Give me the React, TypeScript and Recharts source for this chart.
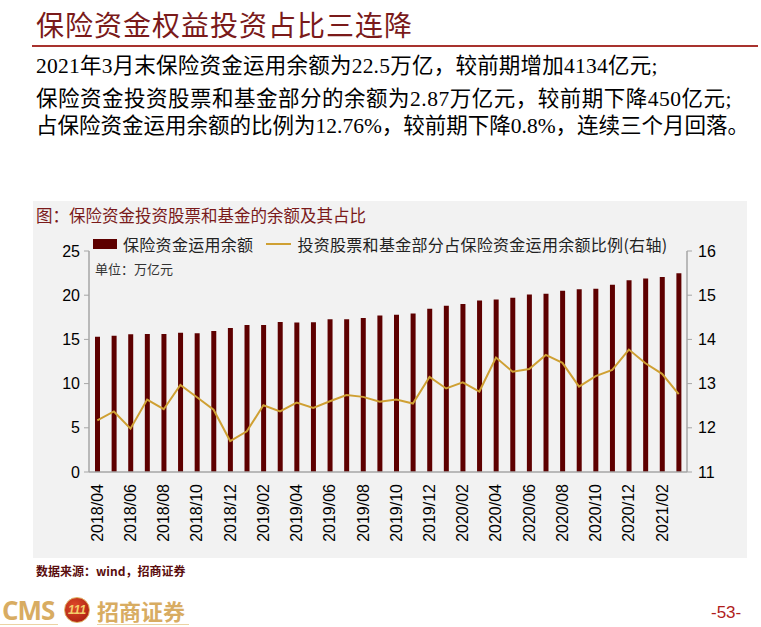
import React from "react";
import {
  ComposedChart,
  Bar,
  Line,
  XAxis,
  YAxis,
} from "recharts";

const MONTHS = [
  "2018/04", "2018/05", "2018/06", "2018/07", "2018/08", "2018/09",
  "2018/10", "2018/11", "2018/12", "2019/01", "2019/02", "2019/03",
  "2019/04", "2019/05", "2019/06", "2019/07", "2019/08", "2019/09",
  "2019/10", "2019/11", "2019/12", "2020/01", "2020/02", "2020/03",
  "2020/04", "2020/05", "2020/06", "2020/07", "2020/08", "2020/09",
  "2020/10", "2020/11", "2020/12", "2021/01", "2021/02", "2021/03",
];

// 保险资金运用余额（万亿元）
const FUND_BALANCE = [
  15.29, 15.40, 15.59, 15.62, 15.62, 15.74,
  15.70, 15.96, 16.30, 16.64, 16.64, 16.98,
  16.90, 16.94, 17.28, 17.28, 17.43, 17.70,
  17.79, 17.94, 18.47, 18.81, 19.00, 19.41,
  19.52, 19.71, 20.09, 20.17, 20.51, 20.66,
  20.73, 21.19, 21.68, 21.90, 22.05, 22.47,
];

// 投资股票和基金部分占比（%，右轴）
const EQUITY_RATIO = [
  12.17, 12.37, 11.98, 12.64, 12.42, 12.97,
  12.69, 12.41, 11.70, 11.92, 12.51, 12.37,
  12.57, 12.45, 12.60, 12.74, 12.70, 12.59,
  12.64, 12.55, 13.15, 12.89, 13.03, 12.82,
  13.59, 13.27, 13.33, 13.65, 13.47, 12.93,
  13.17, 13.31, 13.77, 13.46, 13.22, 12.76,
];

const LEFT_TICKS = [0, 5, 10, 15, 20, 25];
const RIGHT_TICKS = [11, 12, 13, 14, 15, 16];

const chartData = MONTHS.map((m, i) => ({
  month: m,
  balance: FUND_BALANCE[i],
  ratio: EQUITY_RATIO[i],
}));

const BAR_COLOR = "#5e0000";
const LINE_COLOR = "#cfa033";
const AXIS_COLOR = "#a6a6a6";
const DARK_RED = "#7a1a1a";
const CJK = '"Noto Sans CJK SC", "Noto Sans", sans-serif';
const SERIF_TEXT = '"Liberation Serif", "Noto Sans CJK SC", serif';
const ARIAL = '"Liberation Sans", Arial, sans-serif';

const XTick = (props: any) => {
  const { x, y, payload } = props;
  const ty = y + 12;
  return (
    <text
      x={x}
      y={ty}
      transform={`rotate(-90, ${x}, ${ty})`}
      textAnchor="end"
      dominantBaseline="central"
      fontSize={16}
      fontFamily={ARIAL}
      fill="#000"
    >
      {payload.value}
    </text>
  );
};

function ChartLegend() {
  return (
    <div
      style={{
        position: "absolute",
        left: 60,
        top: 31,
        display: "flex",
        alignItems: "center",
        fontFamily: CJK,
        fontSize: 16,
        letterSpacing: 0.3,
        color: "#222",
        whiteSpace: "nowrap",
      }}
    >
      <span style={{ width: 24, height: 10, background: BAR_COLOR, display: "inline-block" }} />
      <span style={{ marginLeft: 6 }}>保险资金运用余额</span>
      <span
        style={{
          width: 25,
          height: 2,
          background: LINE_COLOR,
          display: "inline-block",
          marginLeft: 13,
        }}
      />
      <span style={{ marginLeft: 6 }}>投资股票和基金部分占保险资金运用余额比例(右轴)</span>
    </div>
  );
}

export default function App() {
  return (
    <div
      style={{
        position: "absolute",
        left: 0,
        top: 0,
        width: 761,
        height: 627,
        background: "#fff",
        overflow: "hidden",
      }}
    >
      {/* 页标题 */}
      <div
        style={{
          position: "absolute",
          left: 36,
          top: 4,
          fontFamily: CJK,
          fontSize: 28,
          color: DARK_RED,
          whiteSpace: "nowrap",
          letterSpacing: 1,
        }}
      >
        保险资金权益投资占比三连降
      </div>
      <div
        style={{
          position: "absolute",
          left: 32,
          top: 45,
          width: 726,
          height: 2,
          background: "#a8322e",
        }}
      />
      <div
        style={{
          position: "absolute",
          left: 36,
          top: 53,
          fontFamily: SERIF_TEXT,
          fontSize: 21.5,
          color: "#000",
          whiteSpace: "nowrap",
          lineHeight: "27px",
        }}
      >
        <div style={{ letterSpacing: 0.23 }}>
          2021年3月末保险资金运用余额为22.5万亿，较前期增加4134亿元;
        </div>
        <div style={{ marginTop: 6, letterSpacing: 0.5 }}>
          保险资金投资股票和基金部分的余额为2.87万亿元，较前期下降450亿元;
        </div>
        <div>占保险资金运用余额的比例为12.76%，较前期下降0.8%，连续三个月回落。</div>
      </div>

      {/* 图表面板 */}
      <div
        style={{
          position: "absolute",
          left: 33,
          top: 201,
          width: 714,
          height: 357,
          background: "#f2f2f2",
        }}
      >
        <div
          style={{
            position: "absolute",
            left: 3,
            top: 2,
            fontFamily: CJK,
            fontSize: 16.5,
            color: DARK_RED,
            whiteSpace: "nowrap",
          }}
        >
          图：保险资金投资股票和基金的余额及其占比
        </div>
        <ChartLegend />
        <div
          style={{
            position: "absolute",
            left: 62,
            top: 58,
            fontFamily: CJK,
            fontSize: 13,
            color: "#333",
            whiteSpace: "nowrap",
          }}
        >
          单位：万亿元
        </div>
        <ComposedChart
          width={714}
          height={357}
          data={chartData}
          margin={{ top: 50, right: 0, bottom: 16, left: 0 }}
          style={{ position: "absolute", left: 0, top: 0 }}
        >
          <XAxis
            dataKey="month"
            interval={1}
            height={70}
            tickLine={false}
            tickSize={0}
            tickMargin={0}
            axisLine={{ stroke: AXIS_COLOR, strokeWidth: 1.5 }}
            tick={<XTick />}
          />
          <YAxis
            yAxisId="left"
            width={56}
            domain={[0, 25]}
            ticks={LEFT_TICKS}
            interval={0}
            tickSize={5}
            tickMargin={4}
            axisLine={{ stroke: AXIS_COLOR, strokeWidth: 1.5 }}
            tickLine={{ stroke: AXIS_COLOR }}
            tick={{ fontSize: 16, fontFamily: ARIAL, fill: "#000" }}
          />
          <YAxis
            yAxisId="right"
            orientation="right"
            width={60}
            domain={[11, 16]}
            ticks={RIGHT_TICKS}
            interval={0}
            tickSize={5}
            tickMargin={6}
            axisLine={{ stroke: AXIS_COLOR, strokeWidth: 1.5 }}
            tickLine={{ stroke: AXIS_COLOR }}
            tick={{ fontSize: 16, fontFamily: ARIAL, fill: "#000" }}
          />
          <Bar
            yAxisId="left"
            dataKey="balance"
            fill={BAR_COLOR}
            barSize={5}
            isAnimationActive={false}
          />
          <Line
            yAxisId="right"
            dataKey="ratio"
            type="linear"
            stroke={LINE_COLOR}
            strokeWidth={2}
            dot={false}
            activeDot={false}
            isAnimationActive={false}
          />
        </ComposedChart>
      </div>

      {/* 数据来源 */}
      <div
        style={{
          position: "absolute",
          left: 36,
          top: 562,
          fontFamily: CJK,
          fontSize: 12,
          fontWeight: "bold",
          color: "#5a0d0d",
          whiteSpace: "nowrap",
        }}
      >
        数据来源：wind，招商证券
      </div>

      {/* 页脚标志 */}
      <div
        style={{
          position: "absolute",
          left: 2,
          top: 596,
          fontFamily: '"Open Sans", sans-serif',
          fontSize: 26,
          fontWeight: "bold",
          color: "#d8ac62",
          lineHeight: "28px",
          letterSpacing: -1,
        }}
      >
        CMS
      </div>
      <div
        style={{
          position: "absolute",
          left: 64,
          top: 597,
          width: 24,
          height: 24,
          borderRadius: "50%",
          background: "radial-gradient(circle at 40% 35%, #e04a2a, #a0180c)",
          border: "1px solid #e0b060",
          color: "#f3cf6c",
          fontFamily: ARIAL,
          fontWeight: "bold",
          fontStyle: "italic",
          fontSize: 12,
          lineHeight: "24px",
          textAlign: "center",
        }}
      >
        111
      </div>
      <div
        style={{
          position: "absolute",
          left: 97,
          top: 597,
          fontFamily: CJK,
          fontSize: 22,
          fontWeight: "bold",
          color: "#d8ac62",
          lineHeight: "26px",
          whiteSpace: "nowrap",
        }}
      >
        招商证券
      </div>
      <div
        style={{
          position: "absolute",
          left: 0,
          top: 624,
          width: 58,
          height: 1,
          background: "#ecd3a3",
        }}
      />
      <div
        style={{
          position: "absolute",
          left: 97,
          top: 624,
          width: 92,
          height: 1,
          background: "#ecd3a3",
        }}
      />
      <div
        style={{
          position: "absolute",
          left: 711,
          top: 603,
          fontFamily: ARIAL,
          fontSize: 17,
          color: "#b01c1c",
        }}
      >
        -53-
      </div>
    </div>
  );
}
